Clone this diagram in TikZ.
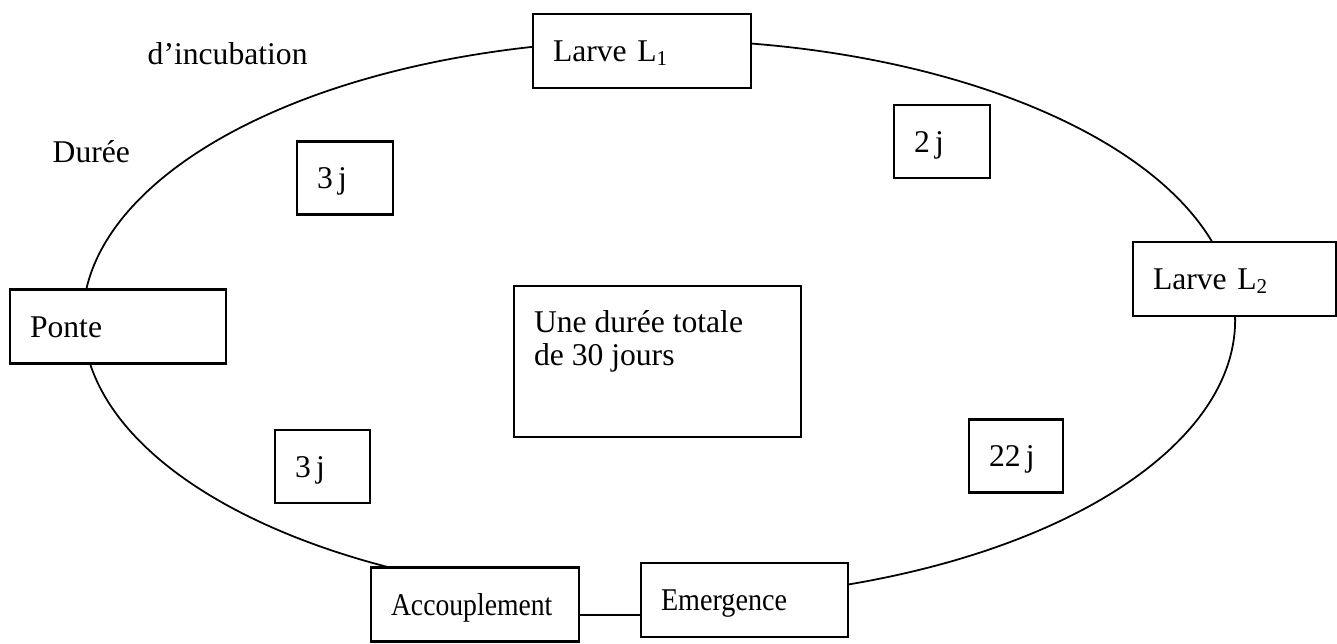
\documentclass[tikz,border=0pt]{standalone}
\usepackage{fontspec}
\usepackage{graphicx}
\setmainfont{Liberation Serif}
\usetikzlibrary{positioning}

\begin{document}
\begin{tikzpicture}[
    font=\fontsize{9}{9.4}\selectfont,
    etape/.style={draw, fill=white, line width=0.6pt, align=left,
        text width=#1, inner xsep=0.2cm, minimum height=0.74cm,
        text height=6.2pt, text depth=0pt},
    duree/.style={etape=#1, minimum height=0.73cm},
    cycle/.style={line width=0.5pt},
    lien/.style={line width=0.6pt},
    lbl/.style={inner sep=0pt, anchor=base west}
]
\useasboundingbox (0,0) rectangle (13.37,6.43);
% Cycle (drawn first, boxes sit on it)
\coordinate (c) at (6.59, 3.23);
\draw[cycle] ([shift={(-78:5.76 and 2.80)}]c)
    arc[start angle=-78, end angle=250, x radius=5.76, y radius=2.80];
% Stages
\node[etape=1.78cm] (larve1) at (6.42, 5.92)   {Larve L\textsubscript{1}};
\node[etape=1.63cm] (larve2) at (12.345, 3.64) {Larve L\textsubscript{2}};
\node[etape=1.76cm] (ponte)  at (1.18, 3.165)  {Ponte};
\node[etape=1.68cm] (acc)    at (4.75, 0.385)  {\scalebox{0.875}[1]{Accouplement}};
\node[etape=1.67cm] (emerg)  at (7.445, 0.43)  {\scalebox{0.89}[1]{Emergence}};
\draw[lien] ([yshift=-3pt]acc.east) -- ([yshift=-3pt]acc.east -| emerg.west);
% Durations
\node[duree=0.56cm] (d1) at (3.45, 4.65)   {3\,j};
\node[duree=0.56cm] (d2) at (9.42, 5.015)  {2\,j};
\node[duree=0.54cm] (d3) at (10.16, 1.87)  {22\,j};
\node[duree=0.55cm] (d4) at (3.225, 1.765) {3\,j};
% Total
\node[draw, fill=white, line width=0.6pt, inner xsep=0.2cm, inner ysep=0.24cm]
    (total) at (6.575, 2.815)
    {\parbox[t][1.03cm][t]{2.47cm}{Une durée totale\\de 30 jours}};
% Free labels
\node[lbl] (incub) at (1.47, 5.78) {d’incubation};
\node[lbl] (dlabel) at (0.52, 4.81) {Durée};
\end{tikzpicture}
\end{document}
